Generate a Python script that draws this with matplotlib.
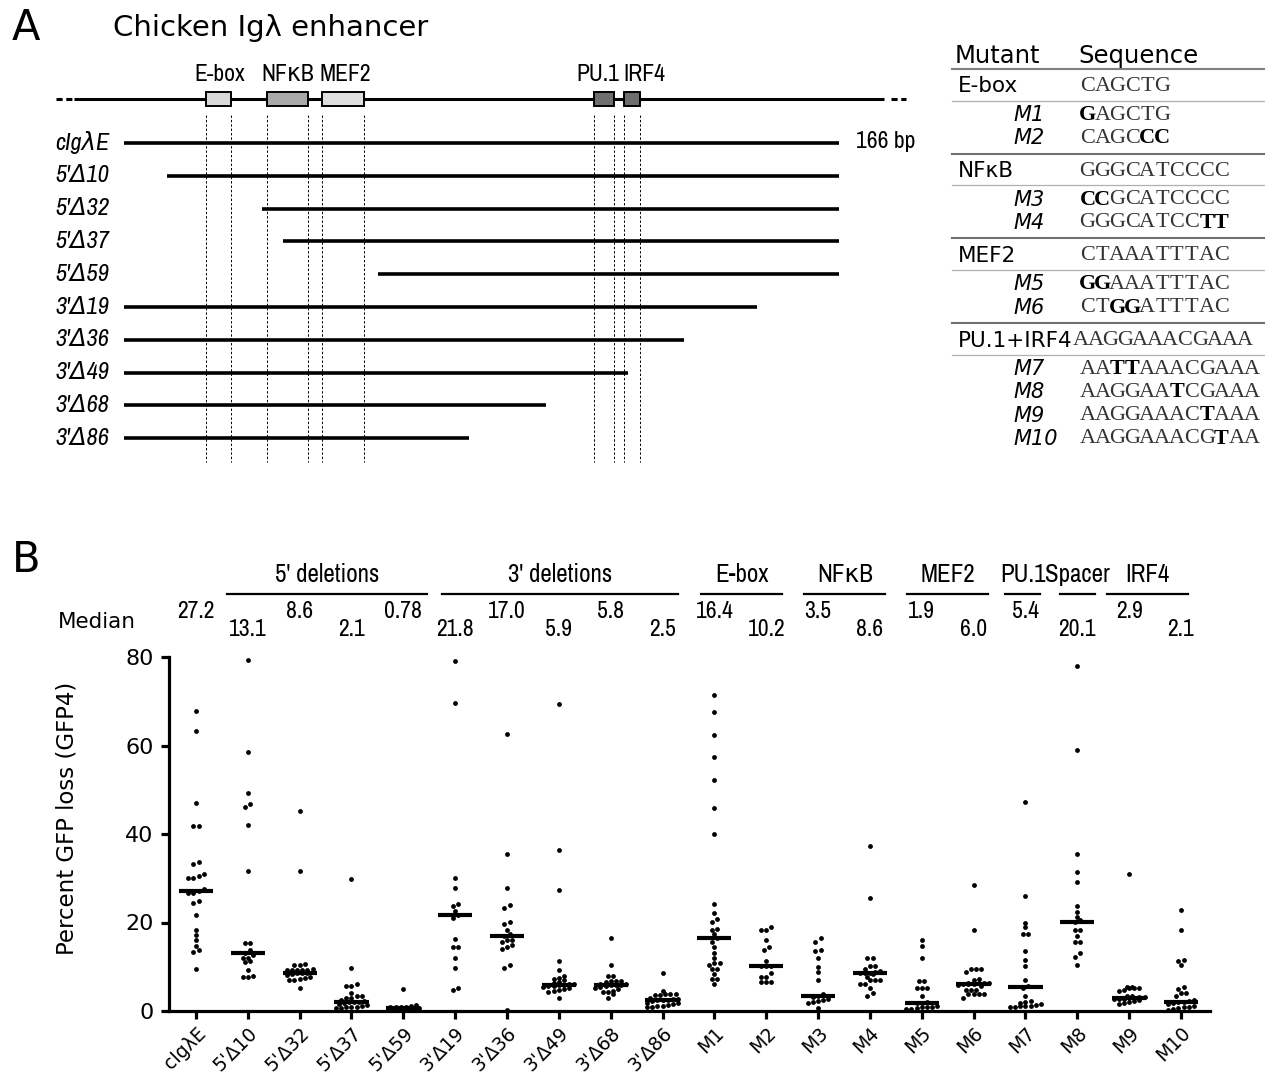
import numpy as np
import matplotlib
matplotlib.use('Agg')
import matplotlib.pyplot as plt
from matplotlib import font_manager
from matplotlib.patches import Rectangle
from matplotlib.transforms import blended_transform_factory

W, H = 1265, 1076

# look for a narrow sans face for the condensed labels
narrow_name, narrow_stretch = None, 'normal'
for f in font_manager.fontManager.ttflist:
    nm = f.name.lower()
    if f.style != 'normal' or 'mono' in nm or 'serif' in nm:
        continue
    if 'narrow' in nm or 'condensed' in nm:
        narrow_name, narrow_stretch = f.name, 'normal'
        break
    st = f.stretch
    if st in ('condensed', 'semi-condensed', 'extra-condensed') or (isinstance(st, int) and st < 500):
        narrow_name, narrow_stretch = f.name, st
if narrow_name:
    narrow = dict(family=[narrow_name, 'DejaVu Sans'], stretch=narrow_stretch)
    nscale = 1.0
else:
    narrow = dict(family=['DejaVu Sans'])
    nscale = 0.8

# ---------------- panel A data (positions in bp) ----------------
enh_len = 166
construct_names = ["cIgλE", "5'Δ10", "5'Δ32", "5'Δ37", "5'Δ59",
                   "3'Δ19", "3'Δ36", "3'Δ49", "3'Δ68", "3'Δ86"]
construct_start = [0, 10, 32, 37, 59, 0, 0, 0, 0, 0]
construct_end = [166, 166, 166, 166, 166, 147, 130, 117, 98, 80]

site_names = ['E-box', 'NFκB', 'MEF2', 'PU.1', 'IRF4']
site_start = [19.0, 33.2, 46.0, 109.1, 116.1]
site_end = [24.8, 42.7, 55.7, 113.8, 119.8]
site_colors = ['#d9d9d9', '#a8a8a8', '#dedede', '#6e6e6e', '#6e6e6e']
site_label_x = [22.3, 38.1, 51.3, 110.1, 120.7]

# mutant table
groups = ['E-box', 'NFκB', 'MEF2', 'PU.1+IRF4']
group_seq = ['CAGCTG', 'GGGCATCCCC', 'CTAAATTTAC', 'AAGGAAACGAAA']
mutant_names = [['M1', 'M2'], ['M3', 'M4'], ['M5', 'M6'], ['M7', 'M8', 'M9', 'M10']]
mutant_seq = [['GAGCTG', 'CAGCCC'],
              ['CCGCATCCCC', 'GGGCATCCTT'],
              ['GGAAATTTAC', 'CTGGATTTAC'],
              ['AATTAAACGAAA', 'AAGGAATCGAAA', 'AAGGAAACTAAA', 'AAGGAAACGTAA']]

# ---------------- panel B data (percent GFP loss) ----------------
tick_labels = ["cIgλE", "5'Δ10", "5'Δ32", "5'Δ37", "5'Δ59", "3'Δ19", "3'Δ36",
               "3'Δ49", "3'Δ68", "3'Δ86", "M1", "M2", "M3", "M4", "M5", "M6",
               "M7", "M8", "M9", "M10"]
median_vals = [27.2, 13.1, 8.6, 2.1, 0.78, 21.8, 17.0, 5.9, 5.8, 2.5,
               16.4, 10.2, 3.5, 8.6, 1.9, 6.0, 5.4, 20.1, 2.9, 2.1]
median_text = ['27.2', '13.1', '8.6', '2.1', '0.78', '21.8', '17.0', '5.9', '5.8', '2.5',
               '16.4', '10.2', '3.5', '8.6', '1.9', '6.0', '5.4', '20.1', '2.9', '2.1']

wt = [67.8, 63.2, 47.1, 41.9, 41.7, 33.6, 33.3, 31.0, 30.6, 30.1, 30.1, 27.5, 27.2,
      26.6, 26.6, 24.8, 24.5, 21.7, 18.2, 17.2, 16.1, 14.7, 13.8, 13.4, 9.6]
d5_10 = [79.4, 58.6, 49.2, 46.8, 46.0, 42.0, 31.6, 15.4, 15.4, 13.7, 13.1, 12.6,
         12.0, 12.0, 11.3, 11.1, 9.2, 8.0, 7.7, 7.7]
d5_32 = [45.3, 31.6, 10.6, 10.5, 10.5, 9.5, 9.3, 9.3, 9.2, 9.2, 9.2, 8.8, 8.6, 8.6,
         8.5, 8.4, 8.2, 7.6, 7.5, 7.3, 7.1, 6.9, 5.3]
d5_37 = [29.9, 9.7, 6.2, 5.7, 5.7, 4.1, 3.4, 3.4, 2.9, 2.9, 2.5, 2.3, 2.1, 2.1, 2.0,
         1.8, 1.5, 1.3, 1.1, 1.0, 0.9, 0.8, 0.7, 0.6]
d5_59 = [5.0, 1.3, 1.1, 1.0, 0.9, 0.8, 0.8, 0.78, 0.7, 0.6, 0.6, 0.5, 0.4, 0.3]
d3_19 = [79.2, 69.6, 30.1, 27.9, 24.2, 23.8, 22.5, 21.8, 21.0, 16.2, 14.4, 14.4,
         12.0, 9.8, 5.3, 4.7]
d3_36 = [62.7, 35.4, 27.7, 24.0, 23.2, 20.1, 19.7, 18.4, 17.4, 17.0, 16.0, 16.0,
         15.6, 14.9, 14.4, 14.1, 10.4, 9.8, 0.2]
d3_49 = [69.3, 36.3, 27.3, 11.4, 9.3, 7.9, 7.5, 7.3, 7.0, 6.5, 6.3, 6.2, 6.0, 5.9,
         5.9, 5.7, 5.6, 5.5, 5.2, 5.0, 4.8, 4.6, 4.4, 3.0]
d3_68 = [16.4, 10.5, 7.9, 7.9, 6.8, 6.8, 6.8, 6.6, 6.2, 6.1, 5.9, 5.8, 5.8, 5.7,
         5.5, 5.3, 4.9, 4.6, 4.4, 4.3, 3.9, 3.0]
d3_86 = [8.5, 4.5, 3.8, 3.8, 3.8, 3.7, 3.6, 3.0, 2.8, 2.7, 2.5, 2.5, 2.4, 2.2, 1.9,
         1.7, 1.5, 1.3, 1.2, 1.1, 1.0, 0.9]
m1 = [71.5, 67.6, 62.3, 57.4, 52.2, 45.8, 40.0, 24.1, 22.1, 20.9, 20.2, 18.6, 18.3,
      17.3, 16.4, 15.6, 14.5, 13.1, 11.9, 10.9, 10.9, 10.4, 9.4, 9.4, 8.3, 7.3, 7.3, 6.0]
m2 = [19.0, 18.3, 18.3, 16.0, 14.5, 13.7, 11.3, 10.2, 10.1, 10.1, 8.5, 7.7, 7.7,
      6.5, 6.5, 6.5]
m3 = [16.4, 15.6, 13.8, 13.6, 12.0, 10.0, 8.8, 7.0, 3.8, 3.5, 3.2, 2.6, 2.4, 2.2,
      2.0, 1.8, 0.6]
m4 = [37.4, 25.5, 11.9, 11.9, 10.1, 10.1, 9.6, 9.0, 8.8, 8.6, 8.6, 8.5, 8.3, 7.6,
      7.1, 7.1, 7.1, 6.2, 6.2, 5.3, 4.1, 3.5]
m5 = [16.0, 14.7, 11.9, 6.8, 6.8, 5.3, 5.3, 5.3, 3.4, 2.0, 1.9, 1.8, 1.2, 1.0, 0.8,
      0.8, 0.6, 0.5, 0.4]
m6 = [28.4, 18.2, 9.4, 9.4, 9.4, 8.8, 7.3, 6.9, 6.4, 6.4, 6.4, 6.4, 6.1, 6.0, 6.0,
      5.8, 5.6, 4.7, 4.7, 4.7, 3.8, 3.8, 3.8, 3.8, 2.9]
m7 = [47.2, 26.1, 19.8, 18.9, 17.4, 17.4, 13.5, 11.6, 10.1, 7.1, 5.6, 5.2, 3.5, 2.3,
      2.0, 1.7, 1.5, 1.3, 1.2, 1.1, 1.1, 1.0, 0.9]
m8 = [77.9, 59.0, 35.5, 31.4, 29.1, 23.7, 22.4, 21.2, 20.6, 20.1, 18.2, 18.2, 16.9,
      15.6, 15.6, 13.1, 12.3, 10.3]
m9 = [31.0, 5.5, 5.5, 5.3, 5.3, 5.2, 4.8, 4.5, 3.3, 3.3, 3.2, 3.1, 3.0, 2.9, 2.8,
      2.7, 2.6, 2.4, 2.2, 2.0, 1.8, 1.6]
m10 = [22.8, 18.4, 11.5, 11.3, 10.3, 5.5, 5.0, 4.1, 4.1, 3.4, 2.4, 2.2, 2.1, 2.0,
       1.8, 1.5, 1.2, 1.0, 0.8, 0.6, 0.4, 0.3]

columns = [wt, d5_10, d5_32, d5_37, d5_59, d3_19, d3_36, d3_49, d3_68, d3_86,
           m1, m2, m3, m4, m5, m6, m7, m8, m9, m10]

group_names = ["5' deletions", "3' deletions", 'E-box', 'NFκB', 'MEF2', 'PU.1', 'Spacer', 'IRF4']
group_span = [(0.6, 4.45), (4.75, 9.3), (9.75, 11.3), (11.73, 13.3),
              (13.71, 15.28), (15.61, 16.29), (16.67, 17.35), (17.57, 19.14)]


def swarm_offsets(vals, row_h=0.9, max_row=7, step=0.1):
    # GraphPad-like rows: points close in y are spread symmetrically in x
    vals = np.asarray(vals)
    order = np.argsort(vals)
    offs = np.zeros(len(vals))
    rows, cur, start = [], [], None
    for idx in order:
        if cur and (vals[idx] - start > row_h or len(cur) >= max_row):
            rows.append(cur)
            cur = []
        if not cur:
            start = vals[idx]
        cur.append(idx)
    if cur:
        rows.append(cur)
    for row in rows:
        n = len(row)
        for k, idx in enumerate(row):
            offs[idx] = (k - (n - 1) / 2) * step
    return offs


def fy(px):
    return 1 - px / H


fig = plt.figure(figsize=(W / 100, H / 100), dpi=100)

# ---------------- panel A ----------------
row0, row_dy = 143, 32.8   # pixel row layout
axA = fig.add_axes([124 / W, 1 - 470 / H, (839 - 124) / W, (470 - 40) / H])
axA.set_xlim(0, enh_len)
axA.set_ylim((470 - row0) / row_dy, (40 - row0) / row_dy)
axA.axis('off')

yd = (99 - row0) / row_dy
axA.plot([-11.5, 176.5], [yd, yd], color='black', lw=2.2, solid_capstyle='butt', clip_on=False)
axA.plot([-15.8, -11.8], [yd, yd], color='black', lw=2.2, ls=(0, (2, 1.2)), clip_on=False)
axA.plot([178.0, 181.5], [yd, yd], color='black', lw=2.2, ls=(0, (2, 1.2)), clip_on=False)
for s, e, c, name, lx in zip(site_start, site_end, site_colors, site_names, site_label_x):
    axA.add_patch(Rectangle((s, yd - 0.21), e - s, 0.42, facecolor=c, edgecolor='black',
                            lw=1.4, zorder=3, clip_on=False))
    axA.text(lx, yd - 0.75, name, ha='center', va='center', fontsize=17 * nscale, **narrow)
    for xe in (s, e):
        axA.plot([xe, xe], [(115 - row0) / row_dy, (462 - row0) / row_dy], color='black',
                 lw=0.7, ls=(0, (2.5, 2)), clip_on=False)

for i, (name, s, e) in enumerate(zip(construct_names, construct_start, construct_end)):
    axA.plot([s, e], [i, i], color='black', lw=2.6, solid_capstyle='butt', clip_on=False)
    axA.text(-16.0, i, name, ha='left', va='center', fontsize=17.5 * nscale, style='italic', **narrow)
axA.text(170.0, -0.06, f'{enh_len} bp', ha='left', va='center', fontsize=17 * nscale, **narrow)

# ---------------- panel B ----------------
axB = fig.add_axes([169 / W, 1 - 1011 / H, (1210 - 169) / W, (1011 - 657) / H])
axB.set_xlim(-0.52, 19.56)
axB.set_ylim(0, 80)
for sp in ('top', 'right'):
    axB.spines[sp].set_visible(False)
for sp in ('left', 'bottom'):
    axB.spines[sp].set_linewidth(2.3)
axB.set_yticks([0, 20, 40, 60, 80])
axB.set_xticks(range(len(tick_labels)))
axB.set_xticklabels(tick_labels, rotation=45, ha='right', va='top', rotation_mode='anchor',
                    fontsize=13.5)
axB.tick_params(axis='both', direction='out', length=6, width=2.3)
axB.tick_params(axis='y', labelsize=16, pad=5)
axB.tick_params(axis='x', pad=3)
axB.set_ylabel('Percent GFP loss (GFP4)', fontsize=16.5)
axB.yaxis.set_label_coords(-0.087, 0.545)

for i, vals in enumerate(columns):
    xo = swarm_offsets(vals)
    axB.scatter(i + xo, vals, s=12, color='black', linewidths=0, zorder=3, clip_on=False)
    axB.hlines(median_vals[i], i - 0.33, i + 0.33, color='black', lw=3.0, zorder=4)

trans = blended_transform_factory(axB.transData, fig.transFigure)
fig.text(58 / W, fy(622), 'Median', fontsize=15.5, ha='left', va='center')
for i, txt in enumerate(median_text):
    ypx = 612 if i % 2 == 0 else 630
    axB.text(i, fy(ypx), txt, transform=trans, ha='center', va='center',
             fontsize=17 * nscale, **narrow)
for name, (a, b) in zip(group_names, group_span):
    axB.plot([a, b], [fy(594), fy(594)], transform=trans, color='black', lw=1.6, clip_on=False)
    axB.text((a + b) / 2, fy(575), name, transform=trans, ha='center', va='center',
             fontsize=18 * nscale, **narrow)

# ---------------- overlay: letters, title, table ----------------
ov = fig.add_axes([0, 0, 1, 1])
ov.set_xlim(0, W)
ov.set_ylim(H, 0)
ov.axis('off')

ov.text(26, 28, 'A', fontsize=30, ha='center', va='center')
ov.text(26, 560, 'B', fontsize=30, ha='center', va='center')
ov.text(113, 28, 'Chicken Igλ enhancer', fontsize=21, ha='left', va='center')

tx0, tx1 = 952, 1265
seq_x, pitch = 1080, 14.9
ov.text(955, 56, 'Mutant', fontsize=17.5, ha='left', va='center')
ov.text(1078, 56, 'Sequence', fontsize=17.5, ha='left', va='center')
ov.plot([tx0, tx1], [69, 69], color='#808080', lw=1.5)


def draw_seq(x0, y, seq, ref=None):
    for k, ch in enumerate(seq):
        bold = ref is not None and ch != ref[k]
        ov.text(x0 + (k + 0.5) * pitch, y, ch, ha='center', va='center',
                family=['Liberation Serif', 'DejaVu Serif'], fontsize=16,
                fontweight='bold' if bold else 'normal',
                color='black' if bold else '#333333')


y = 69
for gi, (g, gs) in enumerate(zip(groups, group_seq)):
    y += 17.5
    ov.text(958, y, g, fontsize=15.5, ha='left', va='center')
    draw_seq(seq_x if len(g) < 8 else 1073, y, gs)
    y += 14
    ov.plot([tx0, tx1], [y, y], color='#b0b0b0', lw=0.9)
    y += 14.5
    for k, (mn, ms) in enumerate(zip(mutant_names[gi], mutant_seq[gi])):
        if k > 0:
            y += 23.2
        ov.text(1013, y, mn, fontsize=15, style='italic', ha='left', va='center')
        draw_seq(seq_x, y, ms, gs)
    if gi < len(groups) - 1:
        y += 15.5
        ov.plot([tx0, tx1], [y, y], color='#707070', lw=1.5)

fig.savefig('out.png', dpi=100)
